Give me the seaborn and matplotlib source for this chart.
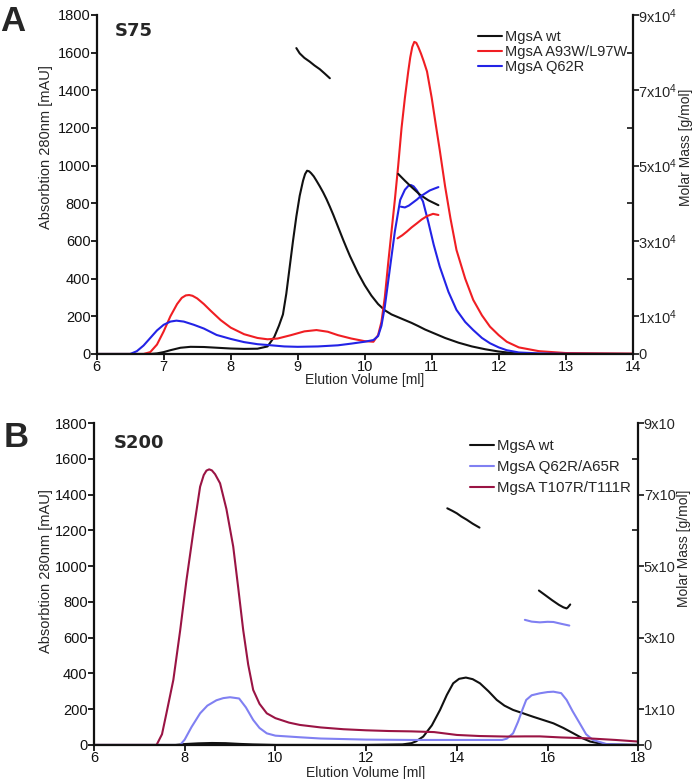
import matplotlib
matplotlib.use('Agg')
import matplotlib.pyplot as plt
import seaborn as sns
from matplotlib.ticker import FixedLocator

# ---------------- Panel A (S75) ----------------
a_wt_x = [6.0, 6.8, 6.9, 7.0, 7.1, 7.25, 7.4, 7.6, 7.8, 8.0, 8.2, 8.4, 8.55, 8.65, 8.72, 8.78, 8.83, 8.88,
          8.93, 8.98, 9.03, 9.08, 9.11, 9.14, 9.17, 9.2, 9.24, 9.28, 9.33, 9.38, 9.43, 9.48, 9.53, 9.58, 9.63,
          9.68, 9.73, 9.78, 9.84, 9.9, 10.0, 10.1, 10.2, 10.3,
          10.4, 10.5, 10.6, 10.7, 10.8, 10.9, 11.0, 11.2, 11.4, 11.6, 11.8, 12.0, 12.2, 12.4, 12.6, 14.0]
a_wt_y = [0, 0, 3, 10, 20, 33, 38, 37, 33, 29, 27, 28, 40, 90, 150, 210, 320, 460,
          600, 730, 840, 920, 955, 973, 970, 960, 943, 920, 890, 858, 822, 782, 740, 695, 650,
          605, 562, 520, 475, 430, 365, 310, 265, 232,
          210, 195, 180, 165, 148, 130, 115, 85, 60, 40, 25, 13, 5, 1, 0, 0]

a_red_x = [6.0, 6.7, 6.8, 6.9, 7.0, 7.1, 7.2, 7.27, 7.33, 7.38, 7.43, 7.5, 7.6, 7.7, 7.85, 8.0, 8.2, 8.4,
           8.55, 8.7, 8.9, 9.1, 9.28, 9.45, 9.6, 9.8, 10.0, 10.13, 10.2, 10.25, 10.3, 10.35, 10.4, 10.45,
           10.5, 10.55, 10.6, 10.65, 10.68, 10.71, 10.74, 10.77, 10.8, 10.84, 10.88, 10.93, 11.0, 11.06,
           11.12, 11.2, 11.28, 11.37, 11.5, 11.62, 11.75, 11.87, 12.0, 12.12, 12.3, 12.6, 13.0, 14.0]
a_red_y = [0, 0, 10, 50, 120, 200, 265, 298, 311, 313, 309, 295, 265, 230, 180, 140, 105, 85,
           78, 82, 100, 120, 127, 118, 100, 82, 68, 65, 100, 170, 300, 480, 650, 818,
           1000, 1200, 1360, 1500, 1575, 1630, 1657, 1652, 1630, 1595, 1555, 1500, 1360, 1220,
           1083, 890, 720, 552, 400, 287, 205, 145, 100, 65, 35, 15, 5, 2]

a_blue_x = [6.0, 6.5, 6.6, 6.7, 6.8, 6.9, 7.0, 7.1, 7.19, 7.3, 7.45, 7.6, 7.79, 8.0, 8.2, 8.4, 8.54, 8.8,
            9.0, 9.3, 9.6, 9.8, 10.0, 10.13, 10.2, 10.25, 10.3, 10.38, 10.45, 10.53, 10.6, 10.65, 10.69,
            10.73, 10.78, 10.87, 10.95, 11.03, 11.12, 11.25, 11.37, 11.5, 11.62, 11.75, 11.87, 12.0, 12.12,
            12.3, 12.6, 13.0, 14.0]
a_blue_y = [0, 0, 15, 45, 85, 125, 155, 172, 177, 172, 155, 135, 101, 80, 63, 52, 48, 40,
            38, 40, 46, 55, 65, 74, 95, 150, 250, 464, 650, 818, 872, 892, 897,
            890, 868, 810, 700, 580, 464, 330, 234, 170, 127, 85, 57, 35, 20,
            8, 3, 1, 0]

# molar mass segments (g/mol)
a_wt_mm1_x = [8.98, 9.03, 9.1, 9.18, 9.25, 9.33, 9.4, 9.48]
a_wt_mm1_y = [81200, 79800, 78600, 77600, 76600, 75600, 74500, 73200]
a_wt_mm2_x = [10.50, 10.6, 10.7, 10.83, 10.95, 11.1]
a_wt_mm2_y = [47800, 46000, 44300, 42200, 40800, 39500]
a_red_mm_x = [10.49, 10.56, 10.63, 10.7, 10.78, 10.85, 10.93, 11.02, 11.1]
a_red_mm_y = [30700, 31500, 32500, 33600, 34700, 35700, 36600, 37200, 36900]
a_blue_mm_x = [10.54, 10.6, 10.66, 10.72, 10.78, 10.83, 10.9, 10.97, 11.04, 11.1]
a_blue_mm_y = [39100, 38900, 39400, 40200, 41000, 41800, 42600, 43400, 43900, 44300]

a_labels = ['MgsA wt', 'MgsA A93W/L97W', 'MgsA Q62R']

# ---------------- Panel B (S200) ----------------
b_mar_x = [6.0, 7.38, 7.5, 7.6, 7.75, 7.9, 8.04, 8.2, 8.34, 8.42, 8.48, 8.54, 8.6, 8.67, 8.78, 8.92, 9.07,
           9.18, 9.29, 9.4, 9.51, 9.65, 9.81, 10.0, 10.3, 10.54, 11.0, 11.5, 12.0, 12.5, 13.0, 13.5, 14.0,
           14.5, 15.1, 15.5, 15.83, 16.3, 16.9, 17.5, 18.0]
b_mar_y = [0, 0, 60, 180, 364, 640, 923, 1210, 1445, 1510, 1535, 1542, 1536, 1515, 1464, 1320, 1110,
           880, 643, 450, 308, 230, 177, 150, 125, 112, 98, 88, 82, 78, 76, 72, 56,
           50, 47, 48, 48, 42, 37, 28, 19]

b_lb_x = [6.0, 7.9, 8.0, 8.15, 8.34, 8.5, 8.7, 8.85, 9.0, 9.2, 9.35, 9.51, 9.65, 9.81, 10.0, 10.54, 11.0,
          12.0, 13.0, 14.0, 15.0, 15.1, 15.24, 15.35, 15.45, 15.53, 15.65, 15.83, 16.0, 16.13, 16.3, 16.42,
          16.55, 16.71, 16.85, 17.0, 17.3, 18.0]
b_lb_y = [0, 0, 30, 100, 177, 220, 250, 262, 267, 260, 210, 140, 95, 65, 52, 43, 36,
          30, 28, 28, 28, 35, 65, 130, 200, 252, 278, 289, 296, 298, 290, 252,
          190, 121, 60, 28, 5, 0]

b_wt_x = [6.0, 7.8, 8.0, 8.3, 8.6, 8.9, 9.2, 9.5, 10.0, 12.0, 12.8, 13.0, 13.1, 13.26, 13.45, 13.63, 13.78,
          13.92, 14.05, 14.2, 14.35, 14.51, 14.7, 14.88, 15.05, 15.24, 15.45, 15.68, 15.9, 16.13, 16.35,
          16.57, 16.75, 16.94, 17.2, 17.5, 18.0]
b_wt_y = [0, 0, 5, 9, 11, 10, 6, 3, 0, 0, 3, 10, 20, 47, 110, 196, 280,
          345, 370, 377, 368, 345, 300, 252, 220, 196, 178, 158, 140, 121, 95,
          65, 40, 19, 6, 2, 0]

b_wt_mm1_x = [13.79, 13.9, 14.0, 14.1, 14.22, 14.35, 14.5]
b_wt_mm1_y = [66200, 65500, 64800, 63900, 63000, 61900, 60800]
b_wt_mm2_x = [15.81, 15.95, 16.1, 16.25, 16.35, 16.42, 16.45, 16.5]
b_wt_mm2_y = [43200, 41900, 40500, 39200, 38500, 38200, 38500, 39300]
b_lb_mm_x = [15.5, 15.65, 15.83, 16.0, 16.13, 16.3, 16.48]
b_lb_mm_y = [35000, 34500, 34300, 34450, 34400, 33900, 33400]

b_labels = ['MgsA wt', 'MgsA Q62R/A65R', 'MgsA T107R/T111R']

mm_major = [0, 10000, 30000, 50000, 70000, 90000]
mm_minor = [20000, 40000, 60000, 80000]
a_mm_ticklabels = ['0', '1x10$^4$', '3x10$^4$', '5x10$^4$', '7x10$^4$', '9x10$^4$']
b_mm_ticklabels = ['0', '1x10', '3x10', '5x10', '7x10', '9x10']

# ---------------- style ----------------
sns.set_style('ticks')
plt.rcParams['font.family'] = ['Liberation Sans', 'DejaVu Sans']
plt.rcParams['mathtext.fontset'] = 'custom'
plt.rcParams['mathtext.rm'] = 'Liberation Sans'
plt.rcParams['mathtext.default'] = 'regular'

BLACK = '#111111'
RED = '#f01e23'
BLUE = '#2323e6'
LBLUE = '#8080f2'
MAROON = '#9a1444'
LW = 1.5

fig = plt.figure(figsize=(6.93, 7.79), dpi=100)
axA = fig.add_axes([0.1395, 0.5456, 0.7735, 0.4352])
axB = fig.add_axes([0.1356, 0.0437, 0.7854, 0.413])


def draw(ax, x, y, color, label=None):
    sns.lineplot(x=x, y=y, ax=ax, color=color, lw=LW, label=label, legend=False,
                 sort=False, estimator=None)


def style_axes(ax, ax2, xticks, xlim, mm_labels, tick_fs, ylab_pos, xlab_y, rlab_pos):
    ax.set_xlim(*xlim)
    ax.set_ylim(0, 1800)
    ax.set_xticks(xticks)
    ax.set_yticks(range(0, 1801, 200))
    ax.set_xlabel('Elution Volume [ml]', fontsize=10)
    ax.set_ylabel('Absorbtion 280nm [mAU]', fontsize=10.5)
    ax.xaxis.set_label_coords(0.5, xlab_y)
    ax.yaxis.set_label_coords(*ylab_pos)
    ax.tick_params(axis='both', labelsize=tick_fs, length=4, width=1.3, pad=0.5, colors='#111111')
    for s in ['left', 'bottom']:
        ax.spines[s].set_linewidth(1.6)
        ax.spines[s].set_color('#111111')
    ax.spines['top'].set_visible(False)
    ax.spines['right'].set_visible(False)
    ax2.set_ylim(0, 90000)
    ax2.yaxis.set_major_locator(FixedLocator(mm_major))
    ax2.yaxis.set_minor_locator(FixedLocator(mm_minor))
    ax2.set_yticklabels(mm_labels)
    ax2.tick_params(axis='y', which='major', labelsize=tick_fs, length=4, width=1.3, pad=0, direction='out')
    ax2.tick_params(axis='y', which='minor', length=4, width=1.3, direction='in')
    ax2.set_ylabel('Molar Mass [g/mol]', fontsize=10)
    ax2.yaxis.set_label_coords(*rlab_pos)
    ax2.spines['right'].set_linewidth(1.6)
    ax2.spines['right'].set_color('#111111')
    for s in ['top', 'left', 'bottom']:
        ax2.spines[s].set_visible(False)
    ax2.patch.set_visible(False)


# Panel A
draw(axA, a_wt_x, a_wt_y, BLACK, a_labels[0])
draw(axA, a_red_x, a_red_y, RED, a_labels[1])
draw(axA, a_blue_x, a_blue_y, BLUE, a_labels[2])
axA2 = axA.twinx()
draw(axA2, a_wt_mm1_x, a_wt_mm1_y, BLACK)
draw(axA2, a_wt_mm2_x, a_wt_mm2_y, BLACK)
draw(axA2, a_red_mm_x, a_red_mm_y, RED)
draw(axA2, a_blue_mm_x, a_blue_mm_y, BLUE)
style_axes(axA, axA2, range(6, 15), (6, 14), a_mm_ticklabels, 10.5,
           (-0.082, 0.61), -0.057, (1.087, 0.61))
hA, lA = axA.get_legend_handles_labels()
axA2.legend(hA, lA, loc='upper left', bbox_to_anchor=(0.711, 0.955), frameon=False, fontsize=10.5,
            handlelength=1.65, handletextpad=0.2, labelspacing=0.05, borderpad=0, borderaxespad=0)
axA.text(0.034, 0.98, 'S75', transform=axA.transAxes, fontsize=13, fontweight='bold',
         family=['DejaVu Sans'], va='top', ha='left')

# Panel B
draw(axB, b_wt_x, b_wt_y, BLACK, b_labels[0])
draw(axB, b_lb_x, b_lb_y, LBLUE, b_labels[1])
draw(axB, b_mar_x, b_mar_y, MAROON, b_labels[2])
axB2 = axB.twinx()
draw(axB2, b_wt_mm1_x, b_wt_mm1_y, BLACK)
draw(axB2, b_wt_mm2_x, b_wt_mm2_y, BLACK)
draw(axB2, b_lb_mm_x, b_lb_mm_y, LBLUE)
style_axes(axB, axB2, range(6, 19, 2), (6, 18), b_mm_ticklabels, 10.5,
           (-0.075, 0.54), -0.064, (1.071, 0.61))
hB, lB = axB.get_legend_handles_labels()
axB2.legend(hB, lB, loc='upper left', bbox_to_anchor=(0.69, 0.95), frameon=False, fontsize=10.8,
            handlelength=1.63, handletextpad=0.2, labelspacing=0.45, borderpad=0, borderaxespad=0)
axB.text(0.037, 0.965, 'S200', transform=axB.transAxes, fontsize=13, fontweight='bold',
         family=['DejaVu Sans'], va='top', ha='left')

fig.text(0.0, 0.993, 'A', fontsize=25, fontweight='bold', va='top', ha='left')
fig.text(0.005, 0.459, 'B', fontsize=25, fontweight='bold', va='top', ha='left')

fig.savefig('out.png', dpi=100)
